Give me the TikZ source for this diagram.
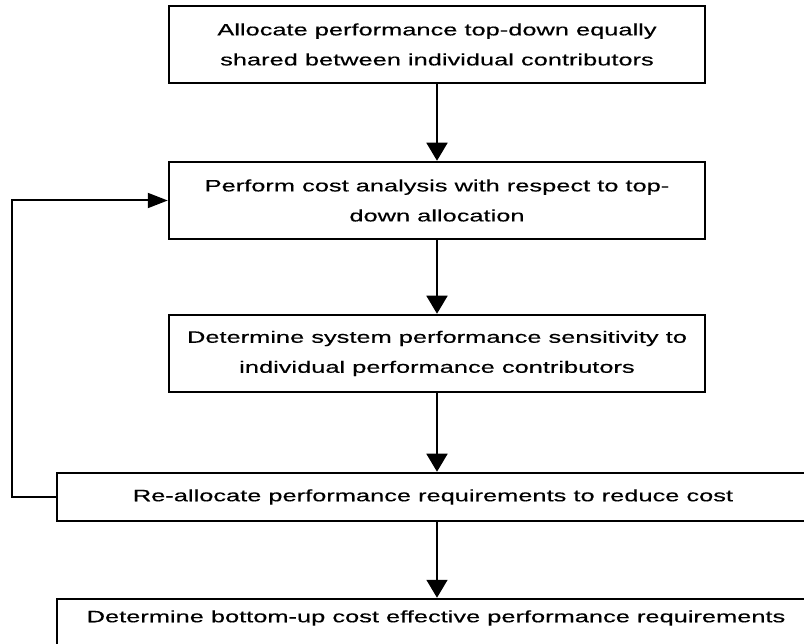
\documentclass[tikz,border=0pt]{standalone}
\usepackage{fontspec}
\setmainfont{Liberation Sans}[FakeStretch=1.54,FakeBold=0.4]
\usetikzlibrary{arrows.meta}
\begin{document}
\begin{tikzpicture}[x=1pt,y=-1pt,
  boxtext/.style={font=\fontsize{16.5}{30}\selectfont},
  stepbox/.style={draw,line width=2.5pt,minimum width=536pt,minimum height=77pt,
    align=center,inner sep=0pt,boxtext},
  widebox/.style={draw,line width=2.5pt,inner sep=0pt},
  label/.style={inner sep=0pt,boxtext},
  flow/.style={line width=1.8pt,-{Triangle[length=18pt,width=21pt]}},
  back/.style={line width=2pt,-{Triangle[length=20pt,width=15pt]}}]
\clip (0,0) rectangle (804,644);
\fill[white] (0,0) rectangle (804,644);

% main chain of steps
\node[stepbox] (b1) at (437,44.5) {Allocate performance top-down equally\\shared between individual contributors};
\node[stepbox] (b2) at (437,200.5) {Perform cost analysis with respect to top-\\down allocation};
\node[stepbox] (b3) at (437,353.5) {Determine system performance sensitivity to\\individual performance contributors};

% wide boxes running off the right edge
\node[widebox,minimum width=800pt,minimum height=48pt] (b4) at (457,497) {};
\node[label] (t4) at (433,497) {Re-allocate performance requirements to reduce cost};
\node[widebox,minimum width=800pt,minimum height=90pt] (b5) at (457,644) {};
\node[label] (t5) at (436,618) {Determine bottom-up cost effective performance requirements};

\draw[flow] (b1.south) -- (b2.north);
\draw[flow] (b2.south) -- (b3.north);
\draw[flow] (b3.south) -- (b3.south |- b4.north);
\draw[flow] (b3.south |- b4.south) -- (b3.south |- b5.north);

% feedback loop
\coordinate (loop) at (12,0);
\draw[back] (b4.west) -- (loop |- b4.west) -- (loop |- b2.west) -- (b2.west);
\end{tikzpicture}
\end{document}
